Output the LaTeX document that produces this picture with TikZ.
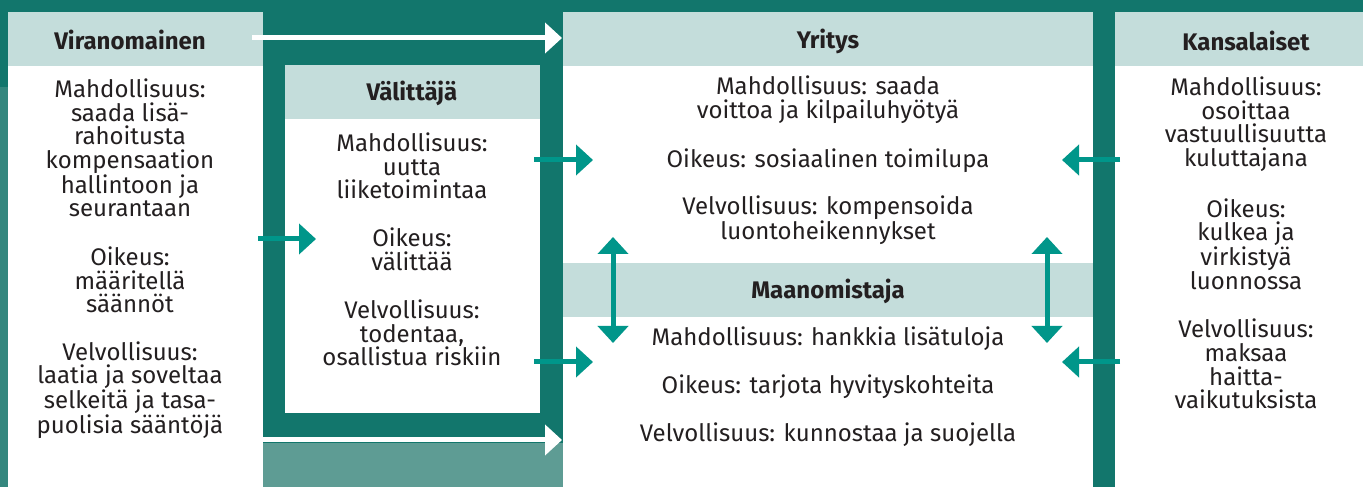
\documentclass[tikz,border=0pt]{standalone}
\usepackage{fontspec}
\setmainfont{Fira Sans}
\usepackage{xcolor}
\usetikzlibrary{arrows.meta}

\definecolor{bgteal}{HTML}{12766C}
\definecolor{phototeal}{HTML}{5E9C94}
\definecolor{headteal}{HTML}{C4DDDB}
\definecolor{arrowteal}{HTML}{00968A}
\definecolor{ink}{HTML}{231F20}

\tikzset{
  headtext/.style={font=\fontsize{24}{23.6}\selectfont\bfseries, text=ink, inner sep=0pt},
  bodytext/.style={font=\fontsize{24}{23.6}\selectfont, text=ink, align=center, inner sep=0pt},
  flow/.style={draw=arrowteal, line width=5pt, -{Triangle[length=17pt, width=30pt]}},
  whiteflow/.style={flow, draw=white},
  bothflow/.style={flow, {Triangle[length=17pt, width=30pt]}-{Triangle[length=17pt, width=30pt]}},
}

\begin{document}
\begin{tikzpicture}[x=1pt, y=1pt]
  \useasboundingbox (0,0) rectangle (1363,487);

  % background
  \fill[bgteal] (0,0) rectangle (1363,487);
  \fill[phototeal] (263,0) rectangle (563,44);
  \fill[phototeal!45!bgteal] (0,0) rectangle (8,400);

  % boxes
  \fill[white] (8,0) rectangle (263,475);
  \fill[headteal] (8,421) rectangle (263,475);
  \fill[white] (285,74) rectangle (540,422);
  \fill[headteal] (285,368) rectangle (540,422);
  \fill[white] (563,0) rectangle (1093,475);
  \fill[headteal] (563,421) rectangle (1093,475);
  \fill[headteal] (563,170) rectangle (1093,224);
  \fill[white] (1115,0) rectangle (1363,475);
  \fill[headteal] (1115,421) rectangle (1363,475);

  % Viranomainen
  \node[headtext] (virhead) at (130,447) {Viranomainen};
  \node[bodytext] (vir1) at (130,339) {Mahdollisuus:\\saada lisä-\\rahoitusta\\kompensaation\\hallintoon ja\\seurantaan};
  \node[bodytext] (vir2) at (130,207) {Oikeus:\\määritellä\\säännöt};
  \node[bodytext] (vir3) at (130,97) {Velvollisuus:\\laatia ja soveltaa\\selkeitä ja tasa-\\puolisia sääntöjä};

  % Välittäjä
  \node[headtext] (valhead) at (412,394) {Välittäjä};
  \node[bodytext] (val1) at (412,321) {Mahdollisuus:\\uutta\\liiketoimintaa};
  \node[bodytext] (val2) at (412,238) {Oikeus:\\välittää};
  \node[bodytext] (val3) at (412,154) {Velvollisuus:\\todentaa,\\osallistua riskiin};

  % Yritys
  \node[headtext] (yrihead) at (828,446) {Yritys};
  \node[bodytext] (yri1) at (828,387) {Mahdollisuus: saada\\voittoa ja kilpailuhyötyä};
  \node[bodytext] (yri2) at (828,326) {Oikeus: sosiaalinen toimilupa};
  \node[bodytext] (yri3) at (828,267) {Velvollisuus: kompensoida\\luontoheikennykset};

  % Maanomistaja
  \node[headtext] (maahead) at (828,196) {Maanomistaja};
  \node[bodytext] (maa1) at (828,148) {Mahdollisuus: hankkia lisätuloja};
  \node[bodytext] (maa2) at (828,100) {Oikeus: tarjota hyvityskohteita};
  \node[bodytext] (maa3) at (828,52) {Velvollisuus: kunnostaa ja suojella};

  % Kansalaiset
  \node[headtext] (kanhead) at (1246,446) {Kansalaiset};
  \node[bodytext] (kan1) at (1246,363) {Mahdollisuus:\\osoittaa\\vastuullisuutta\\kuluttajana};
  \node[bodytext] (kan2) at (1246,243) {Oikeus:\\kulkea ja\\virkistyä\\luonnossa};
  \node[bodytext] (kan3) at (1246,123) {Velvollisuus:\\maksaa\\haitta-\\vaikutuksista};

  % arrow ends
  \coordinate (wtop1) at (252,449);  \coordinate (wtop2) at (562,449);
  \coordinate (wbot1) at (263,47);   \coordinate (wbot2) at (562,47);
  \coordinate (vv1) at (258,248);    \coordinate (vv2) at (316,248);
  \coordinate (vy1) at (534,327);    \coordinate (vy2) at (593,327);
  \coordinate (vy3) at (534,125);    \coordinate (vy4) at (593,125);
  \coordinate (ky1) at (1120,327);   \coordinate (ky2) at (1062,327);
  \coordinate (ky3) at (1120,125);   \coordinate (ky4) at (1062,125);
  \coordinate (ym1) at (613,250);    \coordinate (ym2) at (613,144);
  \coordinate (ym3) at (1047,250);   \coordinate (ym4) at (1047,144);

  % arrows
  \draw[whiteflow] (wtop1) -- (wtop2);
  \draw[whiteflow] (wbot1) -- (wbot2);
  \draw[flow] (vv1) -- (vv2);
  \draw[flow] (vy1) -- (vy2);
  \draw[flow] (vy3) -- (vy4);
  \draw[flow] (ky1) -- (ky2);
  \draw[flow] (ky3) -- (ky4);
  \draw[bothflow] (ym1) -- (ym2);
  \draw[bothflow] (ym3) -- (ym4);
\end{tikzpicture}
\end{document}
